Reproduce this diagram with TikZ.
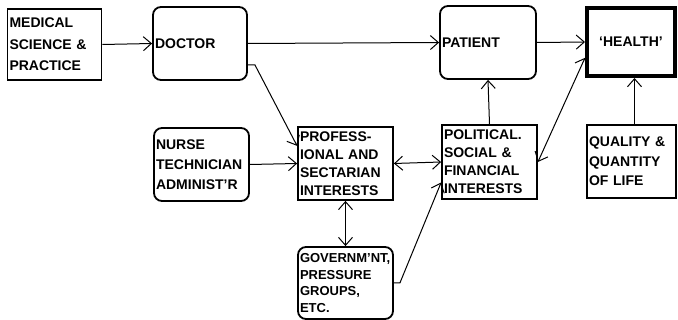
\documentclass[tikz,border=0pt]{standalone}
\usepackage{fontspec}
\setmainfont{Liberation Sans}
\usetikzlibrary{arrows.meta}
\newcommand{\boxfont}{\fontsize{14}{18}\selectfont\bfseries}

\begin{document}
\begin{tikzpicture}[x=1pt,y=-1pt,
    box/.style={draw, line width=1.8pt, inner sep=2pt, align=left,
                font=\boxfont, text width=#1},
    box/.default=90pt,
    rbox/.style={box=#1, rounded corners=8pt},
    rbox/.default=90pt,
    arr/.style={-{Straight Barb[length=8pt,width=14pt]}, line width=1pt},
    darr/.style={{Straight Barb[length=8pt,width=14pt]}-{Straight Barb[length=8pt,width=14pt]},
                 line width=1pt}]
            \useasboundingbox (0,0) rectangle (678,320);
            \node[box, minimum height=71pt, font=\fontsize{14}{21.5}\selectfont\bfseries]
                (med) at (54.5,44.5) {MEDICAL\\SCIENCE \&\\PRACTICE};
            \node[rbox, minimum height=73pt] (doc) at (200,43.5) {DOCTOR};
            \node[rbox=92pt, minimum height=73pt] (pat) at (488,42.5) {PATIENT};
            \node[box=84pt, minimum height=68pt, line width=4pt, align=center]
                (hea) at (631,42) {‘HEALTH’};
            \node[rbox=91pt, minimum height=73pt, font=\fontsize{14}{20}\selectfont\bfseries]
                (nur) at (201.5,164.5) {NURSE\\TECHNICIAN\\ADMINIST’R};
            \node[box=91pt, minimum height=73pt]
                (pro) at (345.5,163.5) {PROFESS-\\IONAL AND\\SECTARIAN\\INTERESTS};
            \node[box=91pt, minimum height=74pt]
                (pol) at (489.5,162) {POLITICAL.\\SOCIAL \&\\FINANCIAL\\INTERESTS};
            \node[box=85pt, minimum height=73pt, font=\fontsize{14}{19.5}\selectfont\bfseries]
                (qua) at (631.5,161.5) {QUALITY \&\\QUANTITY\\OF LIFE};
            \node[rbox=91pt, minimum height=72pt, font=\fontsize{13}{16.5}\selectfont\bfseries]
                (gov) at (345.5,283) {GOVERNM’NT,\\PRESSURE\\GROUPS,\\ETC.};
            \draw[arr] (med.east) -- (doc.west);
            \draw[arr] (doc.east) -- (pat.west);
            \draw[arr] (pat.east) -- (hea.west);
            \draw[arr] (doc.-24) -- ++(7,0) -- (pro.160);
            \draw[arr] (nur.east) -- (pro.west);
            \draw[darr] (pro.east) -- (pol.west);
            \draw[darr] (pro.south) -- (gov.north);
            \draw[arr] (gov.east) -- ++(6,0) -- (pol.203);
            \draw[arr] (pol.north) -- (pat.south);
            \draw[darr] (pol.east) -- (hea.199);
            \draw[arr] ([xshift=3pt]qua.north) -- ([xshift=3pt]qua.north |- hea.south);
\end{tikzpicture}
\end{document}
